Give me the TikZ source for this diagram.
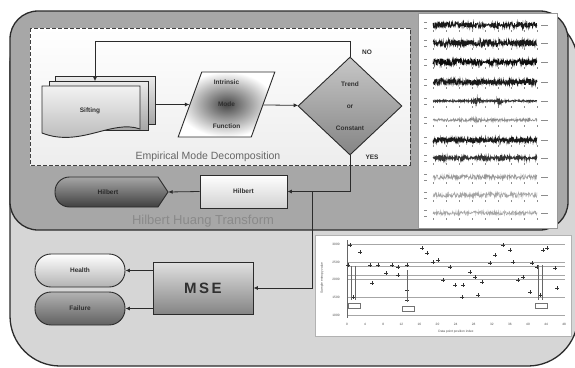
\documentclass[tikz,border=0pt]{standalone}
\usepackage{fontspec}
\setmainfont{Liberation Sans}
\usetikzlibrary{shapes.geometric,arrows.meta,calc}
\definecolor{edgec}{HTML}{2B2B2B}
\definecolor{txtc}{HTML}{303030}
\definecolor{panelD}{HTML}{A7A7A7}
\definecolor{panelL}{HTML}{D6D6D6}
\definecolor{hhtc}{HTML}{8A8A8A}
\begin{document}
\begin{tikzpicture}[x=1pt,y=-1pt,
  edgeline/.style={draw=edgec, line width=0.9pt},
  conn/.style={draw=edgec, line width=0.8pt},
  arr/.style={conn, -{Latex[length=4.5pt,width=4pt]}},
  lbl/.style={font=\fontsize{6.5}{8}\selectfont\bfseries, text=txtc},
  sig/.style={line width=0.7pt},
  mk/.style={line width=0.45pt, draw=black!80},
  tiny/.style={font=\fontsize{3.2}{4}\selectfont, text=black!70, inner sep=0pt},
]
\useasboundingbox (0,0) rectangle (575,367);
\fill[white] (0,0) rectangle (575,367);

% lower panel
\draw[fill=panelL, draw=edgec, line width=1.3pt, rounded corners=50pt] (10,14) rectangle (578,366);
% upper panel
\draw[fill=panelD, draw=edgec, line width=1.3pt, rounded corners=28pt] (10,11) rectangle (568,230);
% EMD dashed box
\draw[top color=white, bottom color=black!7, draw=black!75, line width=1pt, dash pattern=on 4pt off 2pt] (30,28) rectangle (410,165);
\node[font=\fontsize{10.5}{12}\selectfont, text=black!60] (emdlbl) at (208,157) {Empirical Mode Decomposition};
\node[font=\fontsize{13}{15}\selectfont, text=hhtc] (hhtlbl) at (203,221) {Hilbert Huang Transform};

% signal panel
\draw[fill=white, draw=black!40, line width=0.4pt] (418,13) rectangle (557,228);
\pgfmathsetseed{42}
\draw[sig, black!90] plot[domain=0:104, samples=420] ({433+\x}, {25+2.8*rand*(1-0.85*exp(max(-9,0-((\x/104-0.52)/0.025)^2)))});
\draw[sig, black!90] plot[domain=0:104, samples=420] ({433+\x}, {43+3*rand*(0.8+0.4*abs(sin(\x*5)))});
\draw[sig, black!95] plot[domain=0:104, samples=420] ({433+\x}, {62+3.4*rand*(1-0.85*exp(max(-9,0-((\x/104-0.5)/0.025)^2)))});
\draw[sig, black!90] plot[domain=0:104, samples=420] ({433+\x}, {82+3*rand*(1-0.7*exp(max(-9,0-((\x/104-0.52)/0.02)^2)))});
\draw[sig, black!80] plot[domain=0:104, samples=420] ({433+\x}, {101+2*rand*(0.4+1.6*exp(max(-9,0-((\x/104-0.42)/0.035)^2))+1.6*exp(max(-9,0-((\x/104-0.63)/0.03)^2)))});
\draw[sig, black!45, line width=0.5pt] plot[domain=0:104, samples=300] ({433+\x}, {120+2.2*rand*(0.7+0.5*exp(max(-9,0-((\x/104-0.4)/0.06)^2)))});
\draw[sig, black!90] plot[domain=0:104, samples=420] ({433+\x}, {140+2.6*rand});
\draw[sig, black!80] plot[domain=0:104, samples=420] ({433+\x}, {158+3*rand*(0.25+0.75*abs(sin(\x*9)))});
\draw[sig, black!40, line width=0.45pt] plot[domain=0:104, samples=300] ({433+\x}, {177+2.4*rand});
\draw[sig, black!35, line width=0.45pt] plot[domain=0:104, samples=300] ({433+\x}, {195+2.6*rand});
\draw[sig, black!35, line width=0.45pt] plot[domain=0:104, samples=300] ({433+\x}, {213+2*rand});
\foreach \yy in {25,43,62,82,101,120,140,158,177,195,213} {
  \draw[black!45, line width=0.4pt] (424,\yy-3) -- (427,\yy-3) (424,\yy+3) -- (427,\yy+3) (541,\yy) -- (548,\yy);
  \foreach \k in {0,...,8} \draw[black!45, line width=0.3pt] (433+\k*13,\yy+5) -- (433+\k*13,\yy+7);
}

% chart panel
\draw[fill=white, draw=black!30, line width=0.4pt] (315,235) rectangle (571,336);
\foreach \gy/\gl in {244/3000,262/2500,279/2000,297/1500,315/1000} {
  \draw[black!35, line width=0.4pt] (347,\gy) -- (565,\gy);
  \node[tiny] at (336,\gy) {\gl};
}
\draw[black!35, line width=0.6pt] (347,266) -- (565,266) (347,275) -- (565,275);
\draw[black!60, line width=0.4pt] (347,240) -- (347,318);
\foreach \k [evaluate=\k as \lab using int(4*\k)] in {0,...,12} \node[tiny] at (347+\k*18.1,324) {\lab};
\node[tiny] at (456,332) {Data point position index};
\node[tiny, rotate=90] at (322,278) {Sample entropy value};
\foreach \px/\py in {350/245,360/252,348/265,370/265,372/283,378/265,386/273,392/265,398/267,407/265,398/275,407/290,407/300,353/297,422/248,427/253,433/262,438/260,443/280,450/267,455/285,462/297,463/285,470/272,475/277,478/295,482/282,490/263,495/255,503/245,510/250,513/262,518/280,523/277,530/292,532/263,537/267,540/295,543/250,547/248,555/268,557/288}
  \draw[mk] (\px-2,\py) -- (\px+2,\py) (\px,\py-2) -- (\px,\py+2);
\draw[black!60, line width=0.4pt] (351,266) -- (351,300) (355,266) -- (355,300) (407,270) -- (407,302) (538,265) -- (538,300) (542,265) -- (542,300);
\draw[black!55, line width=0.3pt] (348,303) rectangle (360,308) (402,306) rectangle (414,311) (535,303) rectangle (547,308);

% Sifting (stacked documents)
\draw[edgeline, top color=black!8, bottom color=black!35] (55,76) rectangle (155,124);
\draw[edgeline, top color=black!8, bottom color=black!35] (49,81) rectangle (148,130);
\draw[edgeline, top color=black!5, bottom color=black!30] (42,86) -- (140,86) -- (140,129) .. controls (112,119) and (80,148) .. (42,133) -- cycle;
\node[minimum width=113pt, minimum height=61pt, inner sep=0pt] (sift) at (98.5,106) {};
\node[lbl] (siftlbl) at (90,111) {Sifting};

% Intrinsic Mode Function
\node[shape=trapezium, trapezium left angle=75, trapezium right angle=105, trapezium stretches=true,
      minimum width=97pt, minimum height=65pt, inner sep=0pt, edgeline, inner color=black!72, outer color=white,
      align=center, font=\fontsize{6.5}{22}\selectfont\bfseries, text=txtc] (imf) at (226.5,104.5) {Intrinsic\\Mode\\Function};

% Trend or Constant
\node[diamond, minimum width=104pt, minimum height=98pt, inner sep=0pt, edgeline, top color=black!22, bottom color=black!48,
      align=center, font=\fontsize{6.5}{22}\selectfont\bfseries, text=txtc] (dec) at (350,106) {Trend\\or\\Constant};
\node[lbl] (nolbl) at (367,52) {NO};
\node[lbl] (yeslbl) at (372,157) {YES};

% Hilbert boxes
\node[edgeline, top color=white, bottom color=black!18, minimum width=87pt, minimum height=33pt, inner sep=0pt, lbl] (hb) at (243.5,191.5) {Hilbert};
\draw[edgeline, top color=black!35, bottom color=black!75] (158,177) -- (168,192) -- (158,207) [rounded corners=14.5pt] -- (55,207) -- (55,177) [sharp corners] -- cycle;
\node[minimum width=113pt, minimum height=30pt, inner sep=0pt] (hd) at (111.5,192) {};
\node[lbl, text=black!85] (hdlbl) at (108,192) {Hilbert};

% MSE and outcomes
\node[edgeline, top color=black!12, bottom color=black!48, minimum width=100pt, minimum height=52pt, inner sep=0pt,
      font=\fontsize{15}{17}\selectfont\bfseries, text=txtc] (mse) at (203,288) {M\,S\,E};
\node[edgeline, rounded corners=16pt, top color=white, bottom color=black!30, minimum width=90pt, minimum height=33pt, inner sep=0pt, lbl] (health) at (80,270.5) {Health};
\node[edgeline, rounded corners=16pt, top color=black!30, bottom color=black!62, minimum width=90pt, minimum height=33pt, inner sep=0pt, lbl] (fail) at (80,308.5) {Failure};

% connectors
\draw[arr] (sift.east |- imf) -- (imf);
\draw[arr] (imf) -- (dec);
\draw[arr] (dec.north) -- ++(0,-15) -| ([yshift=-6pt]sift.north -| 95,0);
\draw[arr] (dec.south) |- (hb.east);
\draw[arr] (hb.west) -- (hd.east);
\coordinate (j) at (312,191.5);
\draw[arr] (j) |- (mse.east);
\draw[arr] (mse.west |- health) -- (health.east);
\draw[arr] (mse.west |- fail) -- (fail.east);
\end{tikzpicture}
\end{document}
